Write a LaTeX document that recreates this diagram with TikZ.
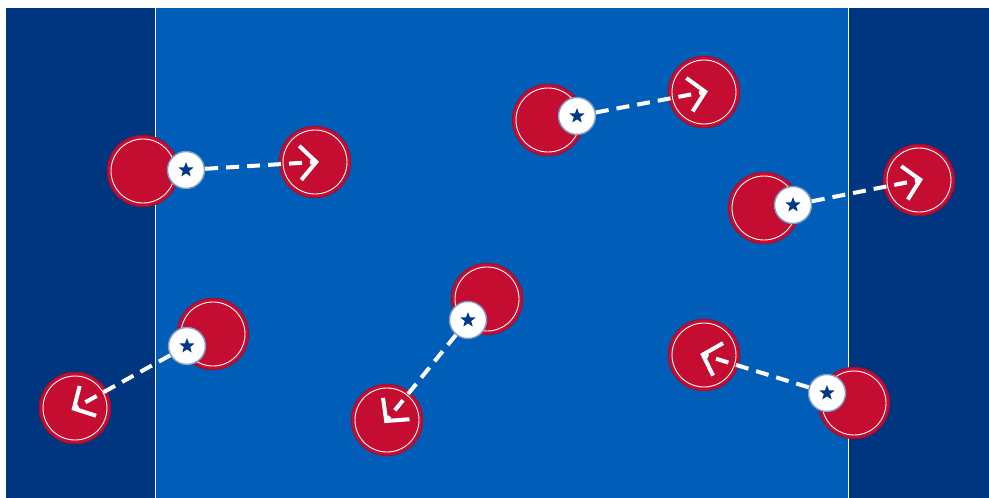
\documentclass[tikz,border=0pt]{standalone}
\usetikzlibrary{arrows.meta,shapes.geometric,calc}
\definecolor{zonedark}{HTML}{00357F}
\definecolor{fieldblue}{HTML}{005EB8}
\definecolor{playerred}{HTML}{C40D30}
\definecolor{starblue}{HTML}{00388A}
\definecolor{ringblue}{HTML}{7F9CC8}
\tikzset{
  player/.style={circle,fill=playerred,draw=playerred!85!black,line width=0.8pt,minimum size=71.5pt,inner sep=0pt,
    path picture={\draw[white,line width=0.9pt] (path picture bounding box.center) circle[radius=32pt];}},
  token/.style={circle,fill=white,draw=ringblue,line width=1.4pt,minimum size=37pt,inner sep=0pt,
    path picture={\node[star,star points=5,star point ratio=2.4,fill=starblue,minimum size=16pt,inner sep=0pt] at (path picture bounding box.center) {};}},
  pass/.style={white,line width=4pt,dash pattern=on 13pt off 8pt,
    -{Straight Barb[length=16pt,width=34pt,line width=4pt]}}
}
\begin{document}
\begin{tikzpicture}[x=1pt,y=-1pt]
\useasboundingbox (0,0) rectangle (989,498);
\fill[white] (0,0) rectangle (989,498);
\fill[fieldblue] (6,8) rectangle (989,498);
\fill[zonedark] (6,8) rectangle (155,498);
\fill[zonedark] (849,8) rectangle (989,498);
\draw[white,line width=1.3pt] (155.5,8) -- (155.5,498);
\draw[white,line width=1.3pt] (848.5,8) -- (848.5,498);

% group 1
\node[player] (a1) at (143,171) {};
\node[player] (b1) at (315,162) {};
\node[token] (t1) at (186,170) {};
\draw[pass] (t1) -- ($(b1.center)!-4pt!(t1)$);
% group 2
\node[player] (a2) at (548,120) {};
\node[player] (b2) at (704,92) {};
\node[token] (t2) at (577,116) {};
\draw[pass] (t2) -- ($(b2.center)!-4pt!(t2)$);
% group 3
\node[player] (a3) at (764,208) {};
\node[player] (b3) at (919,180) {};
\node[token] (t3) at (793,205) {};
\draw[pass] (t3) -- ($(b3.center)!-4pt!(t3)$);
% group 4
\node[player] (a4) at (213,334) {};
\node[player] (b4) at (75,408) {};
\node[token] (t4) at (187,346) {};
\draw[pass] (t4) -- ($(b4.center)!-4pt!(t4)$);
% group 5
\node[player] (a5) at (487,299) {};
\node[player] (b5) at (387,420) {};
\node[token] (t5) at (468,320) {};
\draw[pass] (t5) -- ($(b5.center)!-4pt!(t5)$);
% group 6
\node[player] (a6) at (854,403) {};
\node[player] (b6) at (704,355) {};
\node[token] (t6) at (827,393) {};
\draw[pass] (t6) -- ($(b6.center)!-4pt!(t6)$);
\end{tikzpicture}
\end{document}
